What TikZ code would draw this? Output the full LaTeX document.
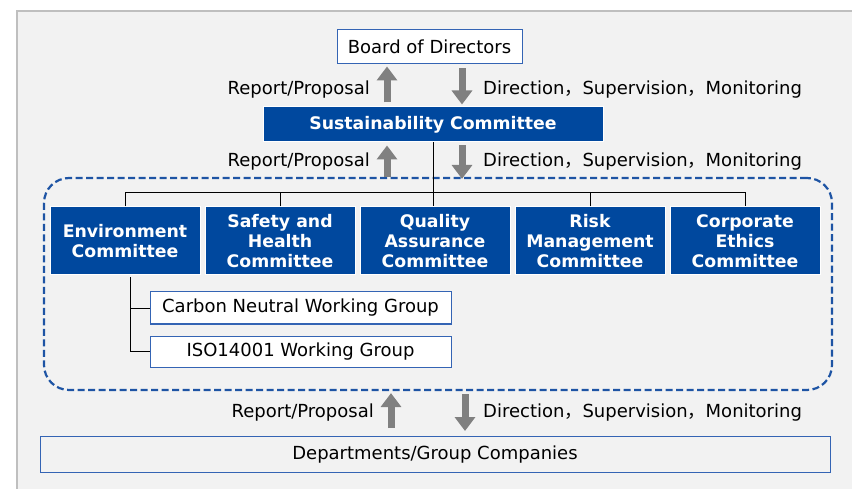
\documentclass[tikz,border=0pt]{standalone}
\usepackage{fontspec}
\usepackage{xcolor}
\setmainfont{DejaVu Sans}
\newfontfamily\cjk{Noto Sans CJK JP}
\usetikzlibrary{arrows.meta}

\definecolor{panelgray}{HTML}{F2F2F2}
\definecolor{panelline}{HTML}{BFBFBF}
\definecolor{deepblue}{RGB}{0,72,158}
\definecolor{edgeblue}{RGB}{52,100,180}
\definecolor{dashblue}{RGB}{30,84,164}
\definecolor{arrowgray}{HTML}{808080}

\newcommand{\fwc}{{\cjk ，}}

\tikzset{
  wbox/.style={draw=edgeblue,line width=1pt,fill=white,inner sep=0pt,font=\fontsize{18}{20}\selectfont},
  gbox/.style={wbox,fill=panelgray},
  bbox/.style={fill=deepblue,draw=white,line width=1pt,text=white,inner sep=0pt,align=center,
    font=\fontsize{17.3}{20}\selectfont\bfseries},
  cbox/.style={bbox,minimum width=150,minimum height=68},
  grpbox/.style={draw=dashblue,line width=2.2pt,dash pattern=on 7pt off 3.5pt,rounded corners=25pt,inner sep=0pt},
  lbl/.style={inner sep=0pt,font=\fontsize{18}{20}\selectfont},
  flow/.style={draw=arrowgray,line width=7pt,-{Triangle[width=20pt,length=14pt]}},
  tree/.style={draw=black,line width=0.8pt}
}

\begin{document}
\begin{tikzpicture}[x=1pt,y=-1pt]
  \useasboundingbox (0,0) rectangle (852,489);
  \fill[white] (0,0) rectangle (852,489);
  \fill[panelgray] (17,11) rectangle (852,489);
  \draw[panelline,line width=1.5pt] (17,489) -- (17,11) -- (852,11);

  % top of the chart
  \node (bod) at (429.5,47) [wbox,minimum width=185,minimum height=34] {Board of Directors};
  \node (sc) at (433,124.5) [bbox,minimum width=340,minimum height=35] {Sustainability Committee};

  % dashed group round the committees
  \node (grp) at (438,284) [grpbox,minimum width=788,minimum height=212] {};

  \node (env) at (125,241) [cbox] {Environment\\Committee};
  \node (shc) at (280,241) [cbox] {Safety and\\Health\\Committee};
  \node (qac) at (435,241) [cbox] {Quality\\Assurance\\Committee};
  \node (rmc) at (590,241) [cbox] {Risk\\Management\\Committee};
  \node (cec) at (745,241) [cbox] {Corporate\\Ethics\\Committee};

  \node (cnwg) at (300.5,308) [wbox,minimum width=301,minimum height=32] {Carbon Neutral Working Group};
  \node (iso) at (300.5,351.5) [wbox,minimum width=301,minimum height=31] {ISO14001 Working Group};

  \node (dept) at (435,454.5) [gbox,minimum width=790,minimum height=36] {Departments/Group Companies};

  % lines of the tree
  \coordinate (bus) at (0,192);
  \coordinate (sub) at (130,0);
  \draw[tree] (sc.south) -- (sc.south |- qac.north);
  \draw[tree] (env.north) -- (env.north |- bus) -| (cec.north);
  \foreach \c in {shc,rmc}
    \draw[tree] (\c.north) -- (\c.north |- bus);
  \draw[tree] (env.south -| sub) ++(0,2) |- (iso.west);
  \draw[tree] (cnwg.west -| sub) -- (cnwg.west);

  % report / direction arrows
  \coordinate (up1) at (387,0);
  \coordinate (dn1) at (462,0);
  \coordinate (up3) at (391,0);
  \coordinate (dn3) at (465,0);

  \draw[flow,shorten <=4pt,shorten >=2pt] (sc.north -| up1) -- (bod.south -| up1);
  \draw[flow,shorten <=4pt,shorten >=2pt] (bod.south -| dn1) -- (sc.north -| dn1);
  \node (rp1) at (370,90) [lbl,anchor=east] {Report/Proposal};
  \node (ds1) at (483,90) [lbl,anchor=west] {Direction\fwc Supervision\fwc Monitoring};

  \draw[flow,shorten <=0pt,shorten >=3pt] (grp.north -| up1) -- (sc.south -| up1);
  \draw[flow,shorten <=3pt,shorten >=-2pt] (sc.south -| dn1) -- (grp.north -| dn1);
  \node (rp2) at (370,162) [lbl,anchor=east] {Report/Proposal};
  \node (ds2) at (483,162) [lbl,anchor=west] {Direction\fwc Supervision\fwc Monitoring};

  \draw[flow,shorten <=8pt,shorten >=2pt] (dept.north -| up3) -- (grp.south -| up3);
  \draw[flow,shorten <=3pt,shorten >=5pt] (grp.south -| dn3) -- (dept.north -| dn3);
  \node (rp3) at (374,413) [lbl,anchor=east] {Report/Proposal};
  \node (ds3) at (483,413) [lbl,anchor=west] {Direction\fwc Supervision\fwc Monitoring};
\end{tikzpicture}
\end{document}
